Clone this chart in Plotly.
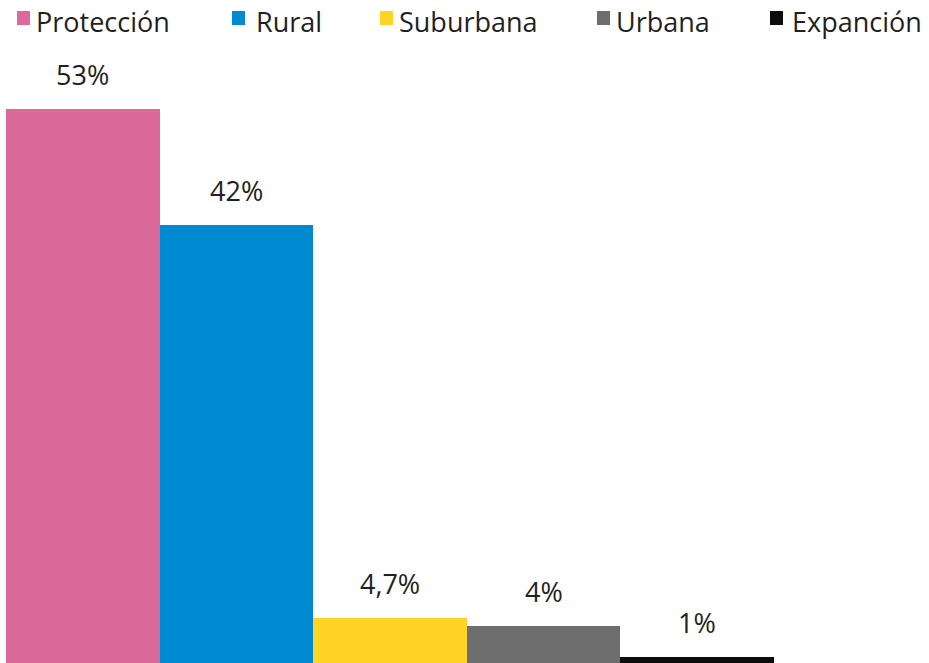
import plotly.graph_objects as go

# Land-use classes and their share of the total area (%)
categories = ["Protección", "Rural", "Suburbana", "Urbana", "Expanción"]
shares = [53, 42, 4.7, 4, 1]
colors = ["#DB6A9A", "#008AD2", "#FFD424", "#6E6E6E", "#0D0D0D"]

W, H = 929, 663
FONT = "Open Sans"
TEXT_COLOR = "#231F20"


def pct_label(v):
    return f"{v:g}".replace(".", ",") + "%"


fig = go.Figure()
fig.add_trace(go.Bar(
    x=list(range(len(categories))),
    y=shares,
    marker=dict(color=colors, line=dict(width=0)),
    width=1,
    hoverinfo="skip",
    showlegend=False,
))

# Value labels above each bar
for i, v in enumerate(shares):
    fig.add_annotation(
        x=i, y=v, xref="x", yref="y",
        text=pct_label(v), showarrow=False,
        yanchor="bottom", yshift=14,
        font=dict(family=FONT, size=27, color=TEXT_COLOR),
    )

# Plot area geometry (pixels)
left = 6
plot_w = W - left
bar_px = 153.6


def px_to_paper_x(px):
    return (px - left) / plot_w


def px_to_paper_y(py):
    return 1 - py / H


# Legend row: colour squares + names
legend_sq = [17, 232, 380, 597, 770]
legend_txt = [34, 254, 397, 614, 790]
for name, col, sx, tx in zip(categories, colors, legend_sq, legend_txt):
    fig.add_shape(
        type="rect", xref="paper", yref="paper",
        x0=px_to_paper_x(sx), x1=px_to_paper_x(sx + 13),
        y0=px_to_paper_y(25), y1=px_to_paper_y(11),
        fillcolor=col, line=dict(width=0),
    )
    fig.add_annotation(
        x=px_to_paper_x(tx), y=px_to_paper_y(21), xref="paper", yref="paper",
        text=name, showarrow=False, xanchor="left", yanchor="middle",
        font=dict(family=FONT, size=27, color=TEXT_COLOR),
    )

# y scale: baseline sits slightly below the bottom edge
scale = 10.545
baseline = 667.9
fig.update_layout(
    width=W, height=H,
    margin=dict(l=left, r=0, t=0, b=0),
    paper_bgcolor="white", plot_bgcolor="white",
    bargap=0,
    xaxis=dict(range=[-0.5, -0.5 + plot_w / bar_px], visible=False, fixedrange=True),
    yaxis=dict(range=[(baseline - H) / scale, baseline / scale],
               visible=False, fixedrange=True),
    font=dict(family=FONT),
)

fig.write_html("out.html", config={"displayModeBar": False})
